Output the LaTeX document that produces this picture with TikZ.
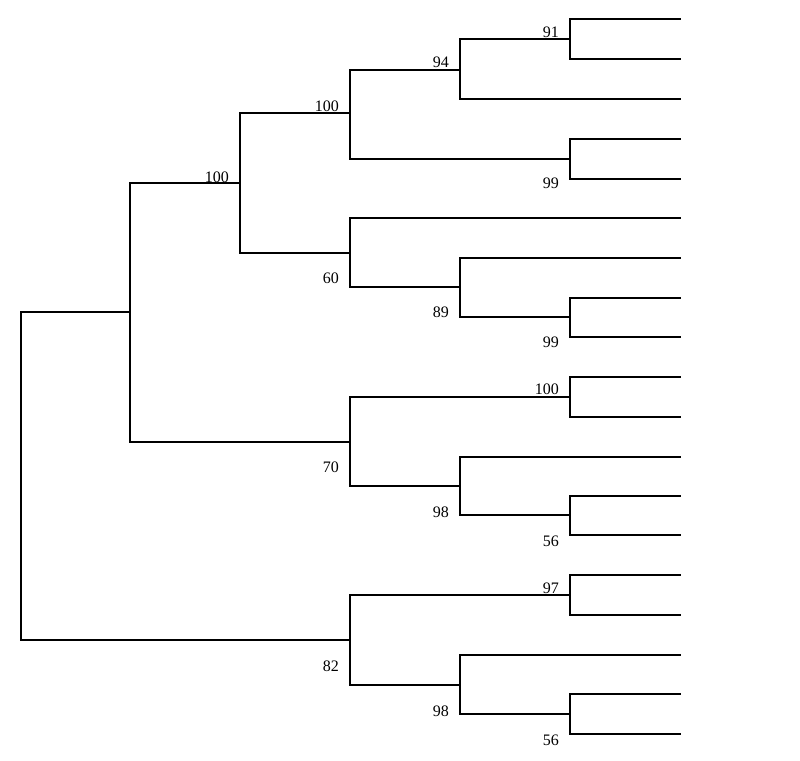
\documentclass[tikz,border=0pt]{standalone}
\usepackage{fontspec}
\setmainfont{Liberation Serif}
\tikzset{% styles for the tree
    br/.style={line width=1.8pt, line cap=rect},
    bs/.style={font=\fontsize{16}{16}\selectfont, inner sep=0pt, anchor=east}}

\begin{document}
\begin{tikzpicture}[x=1pt,y=-1pt]
  \useasboundingbox (0,0) rectangle (800,760);

  % leaves
  \coordinate (l1) at (680,19);
  \coordinate (l2) at (680,59);
  \coordinate (l3) at (680,99);
  \coordinate (l4) at (680,139);
  \coordinate (l5) at (680,179);
  \coordinate (l6) at (680,218);
  \coordinate (l7) at (680,258);
  \coordinate (l8) at (680,298);
  \coordinate (l9) at (680,337);
  \coordinate (l10) at (680,377);
  \coordinate (l11) at (680,417);
  \coordinate (l12) at (680,457);
  \coordinate (l13) at (680,496);
  \coordinate (l14) at (680,535);
  \coordinate (l15) at (680,575);
  \coordinate (l16) at (680,615);
  \coordinate (l17) at (680,655);
  \coordinate (l18) at (680,694);
  \coordinate (l19) at (680,734);

  % inner nodes
  \coordinate (r) at (21,476);
  \coordinate (a) at (130,312);
  \coordinate (n82) at (350,640);
  \coordinate (n100a) at (240,183);
  \coordinate (n70) at (350,442);
  \coordinate (n100b) at (350,113);
  \coordinate (n60) at (350,253);
  \coordinate (n94) at (460,70);
  \coordinate (n91) at (570,39);
  \coordinate (n99a) at (570,159);
  \coordinate (n89) at (460,287);
  \coordinate (n99b) at (570,317);
  \coordinate (n100c) at (570,397);
  \coordinate (n98a) at (460,486);
  \coordinate (n56a) at (570,515);
  \coordinate (n97) at (570,595);
  \coordinate (n98b) at (460,685);
  \coordinate (n56b) at (570,714);

  \draw[br] (r) |- (a);
  \draw[br] (r) |- (n82);
  \draw[br] (a) |- (n100a);
  \draw[br] (a) |- (n70);
  \draw[br] (n100a) |- (n100b);
  \draw[br] (n100a) |- (n60);
  \draw[br] (n100b) |- (n94);
  \draw[br] (n100b) |- (n99a);
  \draw[br] (n94) |- (n91);
  \draw[br] (n94) |- (l3);
  \draw[br] (n91) |- (l1);
  \draw[br] (n91) |- (l2);
  \draw[br] (n99a) |- (l4);
  \draw[br] (n99a) |- (l5);
  \draw[br] (n60) |- (l6);
  \draw[br] (n60) |- (n89);
  \draw[br] (n89) |- (l7);
  \draw[br] (n89) |- (n99b);
  \draw[br] (n99b) |- (l8);
  \draw[br] (n99b) |- (l9);
  \draw[br] (n70) |- (n100c);
  \draw[br] (n70) |- (n98a);
  \draw[br] (n100c) |- (l10);
  \draw[br] (n100c) |- (l11);
  \draw[br] (n98a) |- (l12);
  \draw[br] (n98a) |- (n56a);
  \draw[br] (n56a) |- (l13);
  \draw[br] (n56a) |- (l14);
  \draw[br] (n82) |- (n97);
  \draw[br] (n82) |- (n98b);
  \draw[br] (n97) |- (l15);
  \draw[br] (n97) |- (l16);
  \draw[br] (n98b) |- (l17);
  \draw[br] (n98b) |- (n56b);
  \draw[br] (n56b) |- (l18);
  \draw[br] (n56b) |- (l19);

  % bootstrap values
  \node[bs] (b91) at (559,32) {91};
  \node[bs] (b94) at (449,62) {94};
  \node[bs] (b99a) at (559,183) {99};
  \node[bs] (b100b) at (339,106) {100};
  \node[bs] (b100a) at (229,177) {100};
  \node[bs] (b60) at (339,278) {60};
  \node[bs] (b89) at (449,312) {89};
  \node[bs] (b99b) at (559,342) {99};
  \node[bs] (b100c) at (559,389) {100};
  \node[bs] (b70) at (339,467) {70};
  \node[bs] (b98a) at (449,512) {98};
  \node[bs] (b56a) at (559,541) {56};
  \node[bs] (b97) at (559,588) {97};
  \node[bs] (b82) at (339,666) {82};
  \node[bs] (b98b) at (449,711) {98};
  \node[bs] (b56b) at (559,740) {56};
\end{tikzpicture}
\end{document}
